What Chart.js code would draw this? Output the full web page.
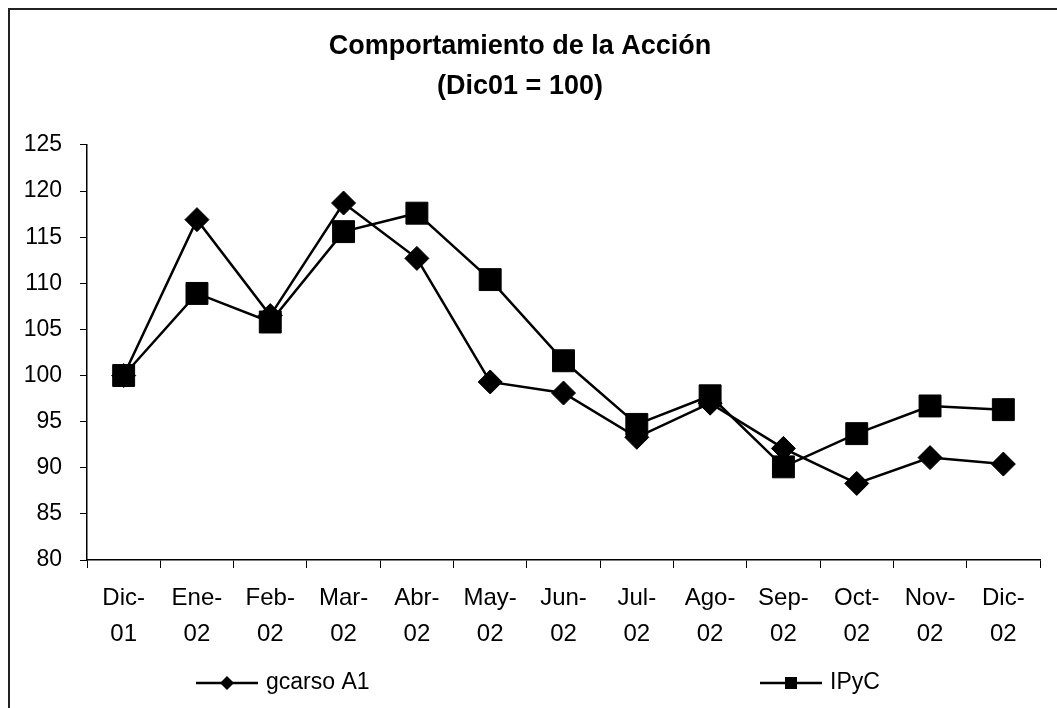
<!DOCTYPE html>
<html>
<head>
<meta charset="utf-8">
<script src="https://cdn.jsdelivr.net/npm/chart.js@4/dist/chart.umd.min.js"></script>
<style>
    body { margin: 0; background: #fff; }
    #wrap { position: relative; width: 1057px; height: 708px; overflow: hidden; }
    #frame { position: absolute; left: 8px; top: 8px; width: 1100px; height: 800px;
             border-left: 2px solid #222; border-top: 2px solid #222; }
    canvas { position: absolute; left: 0; top: 0; }
</style>
</head>
<body>
<div id="wrap">
    <div id="frame"></div>
    <canvas id="lineChart" width="1057" height="708"></canvas>
</div>
<script>
const categories = ['Dic-01', 'Ene-02', 'Feb-02', 'Mar-02', 'Abr-02', 'May-02', 'Jun-02',
    'Jul-02', 'Ago-02', 'Sep-02', 'Oct-02', 'Nov-02', 'Dic-02'];
const gcarso = [100, 116.9, 106.5, 118.7, 112.7, 99.3, 98.1, 93.3, 97.0, 92.1, 88.3, 91.1, 90.4];
const ipyc = [100, 108.9, 105.8, 115.6, 117.6, 110.4, 101.6, 94.7, 97.8, 90.1, 93.7, 96.7, 96.3];
const seriesNames = ['gcarso A1', 'IPyC'];
const titleLines = ['Comportamiento de la Acción', '(Dic01 = 100)'];

const FONT = "'Liberation Sans', Arial, sans-serif";

// leyenda dibujada a mano: Excel separa mucho las dos entradas
const bottomLegend = {
    id: 'bottomLegend',
    afterDraw(chart, args, opts) {
        const ctx = chart.ctx;
        const y = opts.y;
        ctx.save();
        chart.data.datasets.forEach((ds, i) => {
            const x = opts.x[i];
            ctx.strokeStyle = '#000';
            ctx.lineWidth = 2.5;
            ctx.beginPath();
            ctx.moveTo(x, y);
            ctx.lineTo(x + 62, y);
            ctx.stroke();
            ctx.fillStyle = '#000';
            ctx.beginPath();
            if (ds.pointStyle === 'rectRot') {
                ctx.moveTo(x + 31, y - 7);
                ctx.lineTo(x + 38, y);
                ctx.lineTo(x + 31, y + 7);
                ctx.lineTo(x + 24, y);
                ctx.closePath();
            } else {
                ctx.rect(x + 25, y - 6, 12, 12);
            }
            ctx.fill();
            ctx.font = '23px ' + FONT;
            ctx.textBaseline = 'middle';
            ctx.fillText(ds.label, x + 70, y);
        });
        ctx.restore();
    }
};

const ctx = document.getElementById('lineChart').getContext('2d');
new Chart(ctx, {
    type: 'line',
    data: {
        labels: categories.map(c => [c.split('-')[0] + '-', c.split('-')[1]]),
        datasets: [
            {
                label: seriesNames[0],
                data: gcarso,
                borderColor: '#000',
                backgroundColor: '#000',
                borderWidth: 2.5,
                pointStyle: 'rectRot',
                pointRadius: 12,
                pointBorderWidth: 1,
                tension: 0
            },
            {
                label: seriesNames[1],
                data: ipyc,
                borderColor: '#000',
                backgroundColor: '#000',
                borderWidth: 2.5,
                pointStyle: 'rect',
                pointRadius: 15.5,
                pointBorderWidth: 1,
                tension: 0
            }
        ]
    },
    options: {
        responsive: false,
        animation: false,
        layout: { padding: { left: 0, right: 17, top: 0, bottom: 44 } },
        plugins: {
            legend: { display: false },
            tooltip: { enabled: false },
            title: {
                display: true,
                text: titleLines,
                color: '#000',
                font: { family: FONT, size: 27, weight: 'bold', lineHeight: 1.48 },
                padding: { top: 27, bottom: 38 }
            },
            bottomLegend: { x: [196, 760], y: 683 }
        },
        scales: {
            x: {
                offset: true,
                grid: { display: true, drawOnChartArea: false, color: '#000', tickLength: 8, offset: true },
                border: { display: true, color: '#000', width: 1.5 },
                ticks: {
                    color: '#000',
                    padding: 12,
                    maxRotation: 0,
                    autoSkip: false,
                    font: { family: FONT, size: 24, lineHeight: 1.5 }
                }
            },
            y: {
                min: 80,
                max: 125,
                afterFit(scale) { scale.width = 87; },
                grid: { display: true, drawOnChartArea: false, color: '#000', tickLength: 7 },
                border: { display: true, color: '#000', width: 1.5 },
                ticks: {
                    stepSize: 5,
                    color: '#000',
                    padding: 18,
                    font: { family: FONT, size: 23 }
                }
            }
        }
    },
    plugins: [bottomLegend]
});
</script>
</body>
</html>
